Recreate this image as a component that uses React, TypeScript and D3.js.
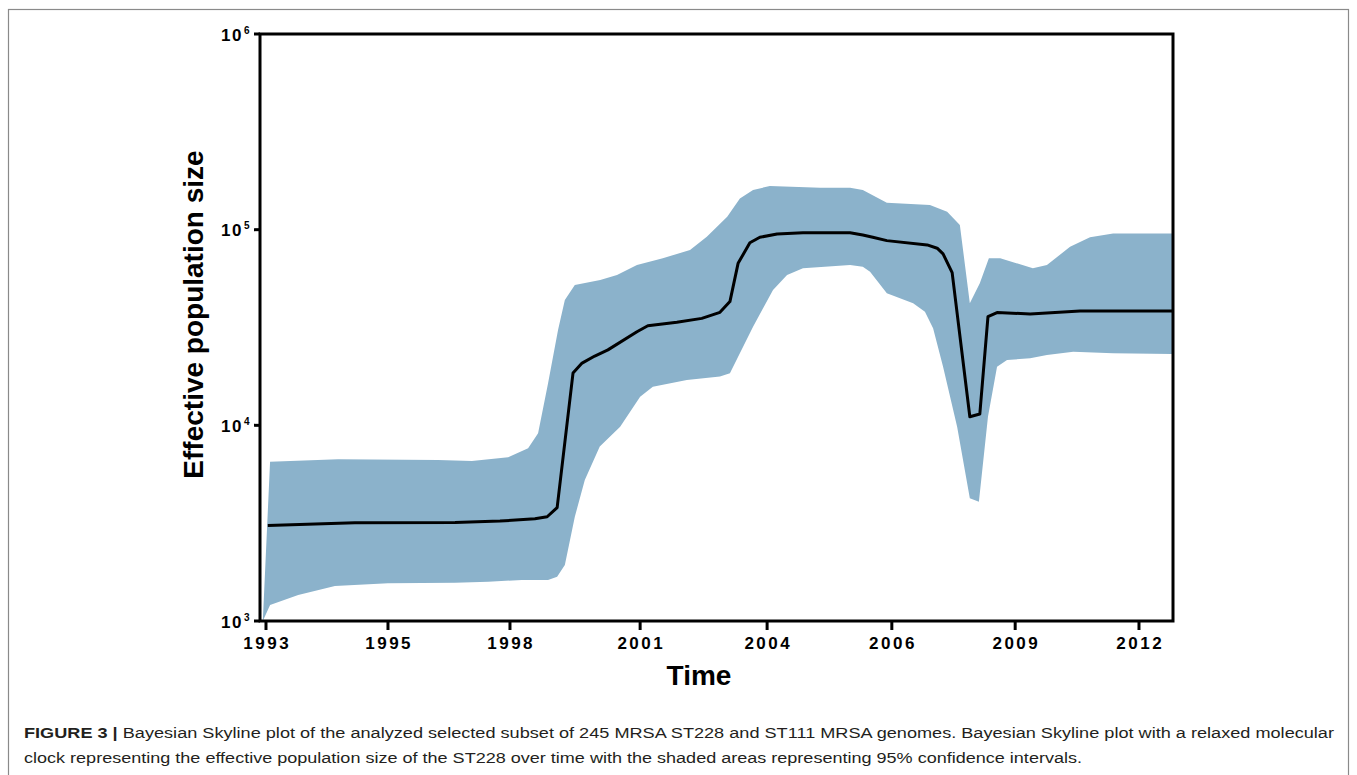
import React from "react";
import * as d3 from "d3";

// Median effective population size (year, value)
const medianYears = [1993.04, 1994.96, 1997.17, 1998.16, 1998.93, 1999.2, 1999.42, 1999.77, 1999.97, 2000.25, 2000.54, 2001.18, 2001.42, 2002.06, 2002.61, 2003.01, 2003.23, 2003.41, 2003.67, 2003.89, 2004.27, 2004.84, 2005.88, 2006.16, 2006.38, 2006.69, 2007.58, 2007.8, 2007.93, 2008.13, 2008.52, 2008.74, 2008.92, 2009.12, 2009.85, 2010.95, 2012.98];
const medianValues = [3080, 3180, 3190, 3240, 3330, 3410, 3800, 18500, 20800, 22600, 24300, 30100, 32300, 33600, 35200, 37800, 42900, 67300, 85700, 91400, 95000, 96500, 96500, 93900, 91400, 87900, 83600, 80400, 75200, 60300, 11070, 11420, 35900, 37700, 37100, 38400, 38400];

// Upper 95% bound
const upperYears = [1992.93, 1993.09, 1994.59, 1996.79, 1997.54, 1998.34, 1998.78, 1999.0, 1999.22, 1999.44, 1999.59, 1999.81, 2000.37, 2000.74, 2001.18, 2001.75, 2002.35, 2002.72, 2003.17, 2003.45, 2003.74, 2004.11, 2005.22, 2005.88, 2006.16, 2006.69, 2007.64, 2008.02, 2008.3, 2008.52, 2008.74, 2008.94, 2009.19, 2009.91, 2010.22, 2010.73, 2011.17, 2011.68, 2012.98];
const upperValues = [1000, 6510, 6700, 6650, 6570, 6870, 7640, 9110, 16400, 30700, 43700, 52200, 55300, 58700, 65900, 71400, 78800, 92000, 116500, 144500, 159500, 167200, 163800, 163800, 159500, 137400, 133700, 123600, 105700, 42100, 53200, 71400, 71400, 63500, 65900, 81800, 91400, 95700, 95700];

// Lower 95% bound
const lowerYears = [1992.93, 1993.09, 1993.71, 1994.52, 1995.69, 1997.17, 1997.9, 1998.64, 1999.22, 1999.42, 1999.59, 1999.81, 2000.03, 2000.36, 2000.81, 2001.25, 2001.53, 2002.28, 2003.01, 2003.23, 2003.74, 2004.18, 2004.49, 2004.84, 2005.88, 2006.16, 2006.32, 2006.69, 2007.27, 2007.53, 2007.71, 2007.93, 2008.24, 2008.52, 2008.72, 2008.92, 2009.12, 2009.34, 2009.85, 2010.22, 2010.8, 2011.68, 2012.98];
const lowerValues = [1000, 1207, 1358, 1510, 1559, 1570, 1588, 1621, 1621, 1683, 1932, 3410, 5260, 7790, 9840, 14000, 15750, 17050, 17740, 18460, 31900, 49200, 58700, 63500, 65900, 64700, 61000, 47300, 42100, 38100, 31300, 19950, 9840, 4240, 4070, 11070, 19950, 21580, 22000, 22870, 23770, 23350, 23150];

const xTickValues = [1993, 1995.69, 1998.38, 2001.25, 2004.05, 2006.8, 2009.52, 2012.25];
const xTickLabels = ["1993", "1995", "1998", "2001", "2004", "2006", "2009", "2012"];
const yTickValues = [1e3, 1e4, 1e5, 1e6];
const yTickExponents = ["3", "4", "5", "6"];

const captionBold = "FIGURE 3 |";
const captionLine1 = " Bayesian Skyline plot of the analyzed selected subset of 245 MRSA ST228 and ST111 MRSA genomes. Bayesian Skyline plot with a relaxed molecular";
const captionLine2 = "clock representing the effective population size of the ST228 over time with the shaded areas representing 95% confidence intervals.";

type Pt = { year: number; value: number };

export default function App() {
  const W = 1357;
  const H = 775;
  const left = 260, right = 1173, top = 34, bottom = 621;
  const x = d3.scaleLinear().domain([1992.868, 2013.0]).range([left, right]);
  const y = d3.scaleLog().domain([1e3, 1e6]).range([bottom, top]);

  const median: Pt[] = medianYears.map((yr, i) => ({ year: yr, value: medianValues[i] }));
  const upper: Pt[] = upperYears.map((yr, i) => ({ year: yr, value: upperValues[i] }));
  const lower: Pt[] = lowerYears.map((yr, i) => ({ year: yr, value: lowerValues[i] }));

  const line = d3
    .line<Pt>()
    .x((d) => x(d.year))
    .y((d) => y(d.value));
  const bandPts = [...upper, ...lower.slice().reverse()];
  const bandPath = d3
    .line<Pt>()
    .x((d) => x(d.year))
    .y((d) => y(d.value))
    .curve(d3.curveLinearClosed)(bandPts) as string;

  const font = "'Liberation Sans', Arial, Helvetica, sans-serif";

  return (
    <div style={{ position: "absolute", left: 0, top: 0 }}>
      <svg width={W} height={H} style={{ display: "block" }}>
        <rect x={0} y={0} width={W} height={H} fill="#ffffff" />
        <rect x={8.5} y={9.5} width={1340} height={800} fill="none" stroke="#8a8a8a" strokeWidth={1.2} />

        <path d={bandPath} fill="#8BB2CB" stroke="none" />
        <path d={line(median) as string} fill="none" stroke="#000" strokeWidth={3} strokeLinejoin="round" />

        {/* frame */}
        <rect x={left} y={top} width={right - left} height={bottom - top} fill="none" stroke="#000" strokeWidth={3} />

        {/* y ticks */}
        {yTickValues.map((v, i) => (
          <g key={"y" + i}>
            <line x1={left - 6} x2={left} y1={y(v)} y2={y(v)} stroke="#000" strokeWidth={3} />
            <text x={243} y={y(v) + 6.5} textAnchor="end" fontFamily={font} fontWeight="bold" fontSize={17} letterSpacing={1.5} fill="#000">
              10
            </text>
            <text x={244} y={y(v) - 0.5} textAnchor="start" fontFamily={font} fontWeight="bold" fontSize={10} fill="#000">
              {yTickExponents[i]}
            </text>
          </g>
        ))}

        {/* x ticks */}
        {xTickValues.map((v, i) => (
          <g key={"x" + i}>
            <line x1={x(v)} x2={x(v)} y1={bottom} y2={bottom + 9} stroke="#000" strokeWidth={3} />
            <text x={x(v) + 1.2} y={649} textAnchor="middle" fontFamily={font} fontWeight="bold" fontSize={17} letterSpacing={2.5} fill="#000">
              {xTickLabels[i]}
            </text>
          </g>
        ))}

        {/* axis titles */}
        <text x={699} y={685} textAnchor="middle" fontFamily={font} fontWeight="bold" fontSize={28} fill="#000">
          Time
        </text>
        <text transform="translate(203,314.5) rotate(-90)" textAnchor="middle" fontFamily={font} fontWeight="bold" fontSize={28} fill="#000">
          Effective population size
        </text>

        {/* caption */}
        <text x={24} y={738} fontFamily={font} fontSize={15.5} fill="#231f20" textLength={1310} lengthAdjust="spacingAndGlyphs">
          <tspan fontWeight="bold">{captionBold}</tspan>
          <tspan>{captionLine1}</tspan>
        </text>
        <text x={24} y={763} fontFamily={font} fontSize={15.5} fill="#231f20" textLength={1058} lengthAdjust="spacingAndGlyphs">
          {captionLine2}
        </text>
      </svg>
    </div>
  );
}
